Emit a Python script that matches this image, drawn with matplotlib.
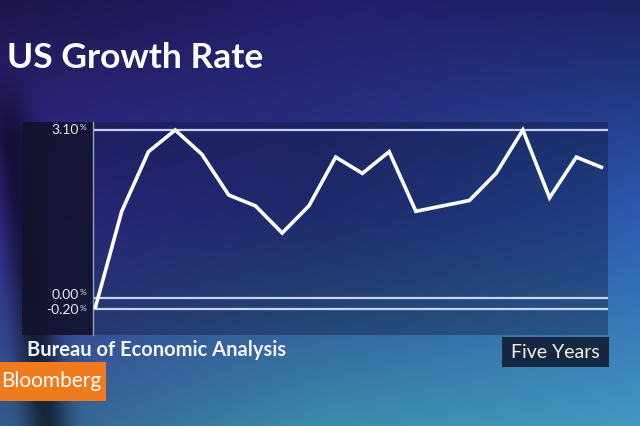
import numpy as np
import matplotlib
matplotlib.use("Agg")
import matplotlib.pyplot as plt
from matplotlib.patches import Rectangle
import matplotlib.transforms as mtrans

# ---- data (quarterly US growth rate, five years) ----
quarters = list(range(20))
growth = [-0.2, 1.6, 2.7, 3.1, 2.65, 1.9, 1.7, 1.2, 1.7, 2.6,
          2.3, 2.7, 1.6, 1.7, 1.8, 2.3, 3.1, 1.85, 2.6, 2.4]
ref_levels = [3.1, 0.0, -0.2]
ref_labels = ["3.10", "0.00", "-0.20"]
title = "US Growth Rate"
source = "Bureau of Economic Analysis"
period = "Five Years"
brand = "Bloomberg"

W, H = 640, 426
fig = plt.figure(figsize=(W / 100, H / 100), dpi=100)

# ---- background gradient ----
grid = np.array([
    [[0x1c, 0x16, 0x48], [0x24, 0x1e, 0x6c], [0x1c, 0x22, 0x62]],
    [[0x3a, 0x2c, 0x9c], [0x2a, 0x38, 0x8c], [0x2c, 0x5a, 0xb0]],
    [[0x34, 0x5c, 0x8e], [0x3c, 0x8c, 0xaa], [0x44, 0x98, 0xc0]],
]) / 255.0
ys = np.linspace(0, 2, H)[:, None]
xs = np.linspace(0, 2, W)[None, :]
img = np.zeros((H, W, 3))
for c in range(3):
    g = grid[:, :, c]
    iy = np.clip(ys.astype(int), 0, 1)
    ix = np.clip(xs.astype(int), 0, 1)
    fy = ys - iy
    fx = xs - ix
    v00 = g[iy, ix]; v01 = g[iy, ix + 1]; v10 = g[iy + 1, ix]; v11 = g[iy + 1, ix + 1]
    img[:, :, c] = (v00 * (1 - fx) * (1 - fy) + v01 * fx * (1 - fy)
                    + v10 * (1 - fx) * fy + v11 * fx * fy)
# dark blurry band at the left
yy, xx = np.mgrid[0:H, 0:W]
center = 5 + (yy - 80) * 0.12
band = np.exp(-((xx - center) / 22.0) ** 2) * np.clip((yy - 60) / 80, 0, 1)
img *= (1 - 0.6 * band)[:, :, None]

ax_bg = fig.add_axes([0, 0, 1, 1])
ax_bg.imshow(img, extent=[0, W, H, 0], aspect="auto", zorder=0)
ax_bg.set_xlim(0, W)
ax_bg.set_ylim(H, 0)
ax_bg.axis("off")

# ---- panel ----
px_l, px_r, px_t, px_b = 93, 608, 122, 335
ax_bg.add_patch(Rectangle((px_l, px_t), px_r - px_l, px_b - px_t,
                          facecolor="#0a1230", alpha=0.35, lw=0, zorder=1))
ax_bg.add_patch(Rectangle((22, px_t), px_l - 22, px_b - px_t,
                          facecolor="#12122c", alpha=0.9, lw=0, zorder=1))

# ---- chart axes ----
x0_px, dx_px = 95.0, 26.74
y0_px, dy_px = 298.0, 54.19
ax = fig.add_axes([px_l / W, (H - px_b) / H, (px_r - px_l) / W, (px_b - px_t) / H])
ax.patch.set_alpha(0)
ax.set_xlim((px_l - x0_px) / dx_px, (px_r - x0_px) / dx_px)
ax.set_ylim((y0_px - px_b) / dy_px, (y0_px - px_t) / dy_px)
for s in ax.spines.values():
    s.set_visible(False)
ax.spines["left"].set_visible(True)
ax.spines["left"].set_color("#9aa0c0")
ax.spines["left"].set_linewidth(1.0)
ax.set_xticks([])
ax.set_yticks([])

for lvl in ref_levels:
    ax.axhline(lvl, xmin=2 / (px_r - px_l), xmax=1, color="#c8d2f2", lw=1.6, zorder=2)

ax.plot(quarters, growth, color="white", lw=2.6, solid_joinstyle="miter",
        solid_capstyle="butt", zorder=3, clip_on=False)

# labels next to reference lines (small pixel nudges keep the close pair legible)
nudges_px = [0, -3, 1.5]
for lvl, lab, nd in zip(ref_levels, ref_labels, nudges_px):
    off = mtrans.offset_copy(ax.transData, fig=fig, x=0, y=-nd, units="dots")
    tr = mtrans.blended_transform_factory(ax_bg.transData, off)
    ax_bg.text(79, lvl, lab, transform=tr, ha="right", va="center",
               color="#e8e8f0", fontsize=10, family="Lato", zorder=4)
    ax_bg.text(80, lvl + 0.04, "%", transform=tr, ha="left", va="center",
               color="#e8e8f0", fontsize=6, family="Lato", zorder=4)

# ---- texts ----
ax_bg.text(7, 58, title, color="white", fontsize=25.5, fontweight="bold",
           family="Lato", ha="left", va="center", zorder=5)
ax_bg.text(27, 350, source, color="#f2f4f8", fontsize=14.5, fontweight="bold",
           family="Lato", ha="left", va="center", zorder=5)
ax_bg.add_patch(Rectangle((502, 337), 107, 30, facecolor="#10182c", alpha=0.85,
                          lw=0, zorder=4))
ax_bg.text(555, 352, period, color="#f0f0f4", fontsize=14, family="Lato",
           ha="center", va="center", zorder=5)
ax_bg.add_patch(Rectangle((0, 362), 106, 39, facecolor="#f07a1e", lw=0, zorder=4))
ax_bg.text(1, 381, brand, color="white", fontsize=15, family="Lato",
           ha="left", va="center", zorder=5)

fig.savefig("out.png", dpi=100)
